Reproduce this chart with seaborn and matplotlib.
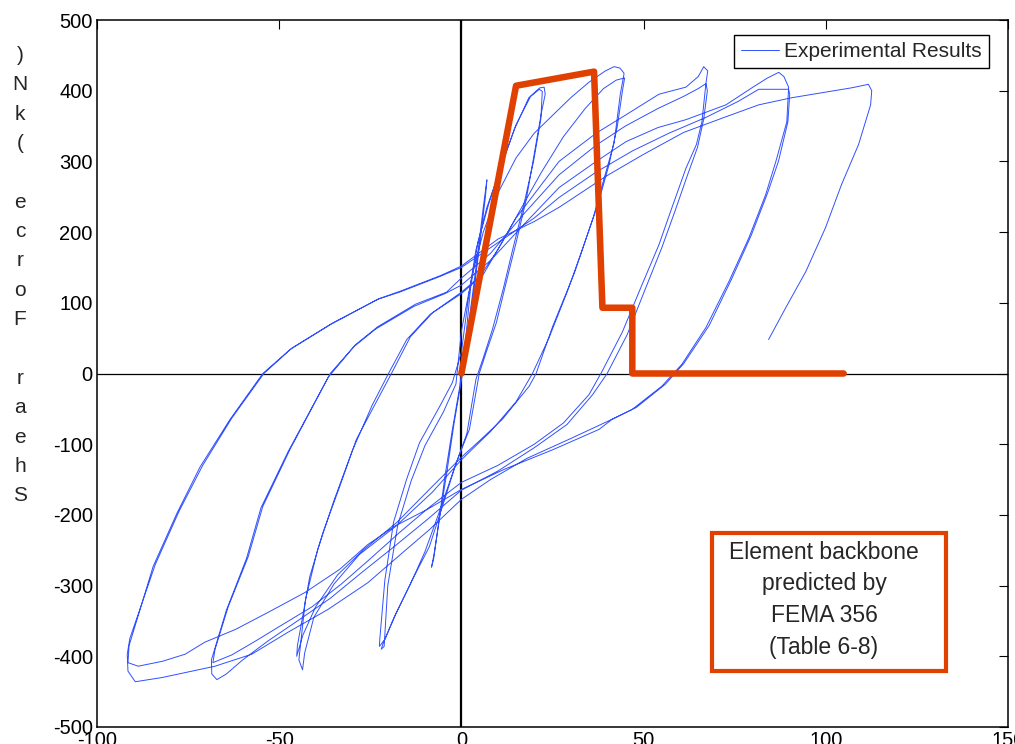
import numpy as np
import pandas as pd
import matplotlib
matplotlib.use("Agg")
import matplotlib.pyplot as plt
from matplotlib.patches import Rectangle
import seaborn as sns

# Cyclic test record, one array pair per displacement amplitude (mm, kN)
cycle_08_disp = [0, 1.5, 3.0, 4.5, 6.0, 7.0, 6.6, 5.2, 3.5, 1.8, 0.0, -2.0, -4.0, -6.0, -7.5, -8.2, -7.6, -6.2, -4.5, -2.5, -0.5]
cycle_08_force = [0, 50, 110, 170, 235, 274, 250, 190, 120, 55, -10, -70, -140, -205, -255, -274, -262, -210, -145, -80, -20]

cycle_22a_disp = [1.0, 2.5, 4.5, 7.0, 10.4, 14.5, 18.5, 21.5, 22.7, 23.0, 22.0, 19.4, 17.8, 15.0, 12.3, 9.6, 6.8, 4.9, 2.2, -1.4,
                  -5.2, -8.8, -13.4, -17.8, -21.0, -22.5, -22.4, -21.0, -18.6, -15.0, -11.5, -6.0, -2.5]
cycle_22a_force = [40, 120, 185, 235, 285, 345, 390, 404, 405, 395, 370, 293, 246, 185, 129, 72, 30, 0, -79, -126,
                   -188, -245, -291, -338, -376, -386, -376, -292, -210, -149, -98, -47, -13]

cycle_22b_disp = [0.0, 2.0, 4.0, 7.5, 11.0, 15.0, 19.0, 21.4, 22.2, 21.8, 19.8, 17.0, 14.2, 11.5, 8.5, 6.0, 4.0, 1.5, -2.0, -6.0,
                  -10.0, -14.0, -18.5, -21.5, -22.0, -21.2, -20.2, -17.5, -13.8, -10.0, -5.0, -1.5]
cycle_22b_force = [30, 110, 175, 240, 295, 352, 392, 402, 399, 360, 300, 236, 178, 120, 62, 22, -8, -85, -135, -195,
                   -252, -298, -345, -382, -390, -386, -300, -215, -152, -102, -55, -15]

cycle_44a_disp = [0.0, 3.0, 6.0, 10.0, 15.0, 20.0, 25.0, 30.0, 35.0, 39.5, 41.9, 43.5, 44.6, 44.6, 43.6, 41.9, 39.0, 36.2, 31.0, 25.0,
                  20.5, 18.6, 11.2, 5.0, 0.3, -8.8, -17.8, -27.0, -34.0, -40.0, -43.5, -45.2, -45.0, -41.6, -38.0, -33.4, -28.8, -23.0, -19.2, -14.0,
                  -7.9, 0.0, 5.0]
cycle_44a_force = [60, 140, 200, 255, 305, 340, 365, 390, 412, 428, 434, 432, 425, 423, 395, 326, 273, 221, 142, 66,
                   0, -18, -65, -95, -117, -164, -211, -250, -285, -330, -370, -400, -385, -287, -225, -160, -93, -37, 0, 52,
                   86, 115, 137]

cycle_44b_disp = [10.0, 16.0, 22.0, 28.0, 34.0, 39.0, 42.5, 44.8, 44.2, 42.8, 40.5, 37.5, 33.5, 29.0, 24.0, 19.5, 15.0, 8.0, 0.0, -8.0,
                  -18.0, -28.0, -35.0, -40.5, -43.0, -43.6, -44.6, -42.8, -39.5, -35.0, -30.0, -24.5, -20.0, -15.0, -8.5, 0.0, 6.0]
cycle_44b_force = [175, 230, 285, 335, 375, 403, 415, 418, 400, 350, 295, 240, 180, 115, 50, 0, -40, -82, -122, -168,
                   -216, -256, -298, -345, -395, -419, -405, -320, -250, -180, -110, -45, 0, 48, 84, 113, 140]

cycle_67a_disp = [15.0, 26.8, 37.0, 45.2, 54.2, 61.6, 65.0, 66.5, 67.6, 67.1, 66.0, 64.5, 61.6, 57.8, 54.2, 49.6, 44.2, 38.6, 35.0, 28.0,
                  20.0, 10.0, 0.0, -9.0, -17.0, -25.0, -33.0, -41.0, -50.0, -57.0, -63.0, -68.2, -67.6, -64.0, -58.5, -54.5, -47.0, -36.0, -29.0, -23.0,
                  -12.6, -4.1, 0.0]
cycle_67a_force = [220, 300, 340, 366, 395, 405, 420, 434, 428, 410, 356, 324, 290, 235, 182, 126, 59, 3, -30, -70,
                   -100, -130, -154, -190, -225, -262, -298, -330, -358, -380, -398, -409, -390, -330, -259, -188, -107, 0, 41, 66,
                   98, 115, 135]

cycle_67b_disp = [8.0, 17.0, 26.8, 37.0, 45.0, 54.0, 61.0, 65.0, 67.1, 67.5, 66.5, 64.8, 62.0, 58.5, 55.0, 50.5, 45.5, 40.0, 36.0, 29.0,
                  20.0, 10.0, 0.0, -9.0, -18.0, -27.0, -36.0, -45.0, -53.0, -60.0, -64.5, -67.1, -68.5, -68.6, -64.5, -59.0, -55.0, -47.5, -36.5, -29.5,
                  -23.5, -13.0, -4.5, 0.0]
cycle_67b_force = [170, 225, 281, 323, 350, 375, 392, 403, 410, 400, 360, 320, 280, 228, 178, 120, 55, 0, -30, -72,
                   -105, -138, -165, -205, -243, -280, -318, -350, -378, -405, -425, -433, -425, -405, -335, -262, -190, -110, -5, 38,
                   63, 95, 113, 125]

cycle_90a_disp = [8.0, 17.0, 26.8, 37.0, 45.2, 54.0, 61.6, 72.6, 80.0, 84.0, 87.1, 88.5, 89.8, 89.3, 86.3, 83.5, 78.9, 73.4, 67.1, 60.5,
                  55.0, 46.8, 41.3, 37.8, 25.0, 12.0, 0.0, -9.3, -18.3, -25.7, -33.4, -43.0, -53.1, -62.0, -70.4, -75.8, -82.0, -88.7, -91.5, -91.2,
                  -84.6, -78.0, -71.7, -63.5, -54.5, -47.0, -36.0, -23.0, -17.0, -6.0, 0.0]
cycle_90a_force = [160, 210, 263, 300, 328, 348, 359, 380, 405, 418, 426, 420, 405, 356, 300, 253, 192, 130, 65, 13,
                   -18, -51, -65, -79, -108, -135, -164, -192, -216, -242, -277, -310, -338, -362, -380, -397, -407, -414, -409, -385,
                   -273, -197, -132, -65, 0, 34, 69, 105, 115, 137, 150]

cycle_90b_disp = [10.0, 20.0, 26.8, 37.0, 47.0, 57.0, 67.0, 76.0, 81.6, 86.0, 89.8, 90.1, 89.6, 87.0, 84.0, 79.5, 74.0, 68.0, 61.0, 56.0,
                  48.0, 40.0, 30.0, 18.0, 8.0, 0.0, -8.8, -18.3, -25.7, -36.7, -47.6, -57.5, -67.6, -82.1, -89.5, -91.5, -91.7, -91.0, -84.0, -77.5,
                  -71.0, -63.0, -54.2, -46.5, -35.5, -22.5, -16.5, -5.5, 0.0]
cycle_90b_force = [185, 220, 249, 285, 315, 340, 362, 385, 402, 402, 402, 395, 356, 300, 255, 195, 132, 68, 14, -15,
                   -48, -68, -92, -120, -150, -178, -221, -263, -296, -334, -366, -397, -414, -430, -436, -421, -397, -375, -270, -195,
                   -130, -63, 0, 36, 71, 106, 117, 139, 152]

cycle_112_disp = [10.0, 20.0, 26.8, 40.0, 50.0, 61.0, 72.0, 81.6, 90.6, 100.0, 107.0, 111.7, 112.6, 112.3, 109.0, 104.3, 99.9, 94.5, 89.0, 84.3]
cycle_112_force = [190, 215, 235, 280, 310, 341, 362, 380, 390, 398, 404, 409, 400, 380, 324, 267, 206, 144, 93, 48]

# FEMA 356 backbone (Table 6-8)
backbone_disp = [0.0, 15.0, 36.4, 38.7, 46.9, 46.9, 104.9]
backbone_force = [0, 407, 427, 93, 93, 0, 0]

ylabel_text = "Shear Force (kN)"
legend_text = "Experimental Results"
note_text = "Element backbone\npredicted by\nFEMA 356\n(Table 6-8)"

cycles = [
    (cycle_08_disp, cycle_08_force), (cycle_22a_disp, cycle_22a_force), (cycle_22b_disp, cycle_22b_force),
    (cycle_44a_disp, cycle_44a_force), (cycle_44b_disp, cycle_44b_force), (cycle_67a_disp, cycle_67a_force),
    (cycle_67b_disp, cycle_67b_force), (cycle_90a_disp, cycle_90a_force), (cycle_90b_disp, cycle_90b_force),
    (cycle_112_disp, cycle_112_force),
]
test = pd.DataFrame({
    "disp": np.concatenate([np.asarray(d, float) for d, _ in cycles]),
    "force": np.concatenate([np.asarray(f, float) for _, f in cycles]),
})
backbone = pd.DataFrame({"disp": backbone_disp, "force": backbone_force})

sns.set_style("white")
plt.rcParams["font.family"] = ["Liberation Sans", "DejaVu Sans"]
plt.rcParams["axes.unicode_minus"] = False

BLUE = "#3050ff"
ORANGE = "#e04000"

fig = plt.figure(figsize=(10.15, 7.44), dpi=100)
ax = fig.add_axes([97 / 1015, 17 / 744, 911 / 1015, 707 / 744])

ax.axvline(0, color="black", lw=1.6, zorder=2)
ax.axhline(0, color="black", lw=0.9, zorder=2)

sns.lineplot(data=test, x="disp", y="force", sort=False, estimator=None,
             color=BLUE, lw=0.7, label=legend_text, ax=ax, zorder=3)
sns.lineplot(data=backbone, x="disp", y="force", sort=False, estimator=None,
             color=ORANGE, lw=4.7, ax=ax, zorder=4, legend=False)

ax.set_xlim(-100, 150)
ax.set_ylim(-500, 500)
ax.set_xticks(np.arange(-100, 151, 50))
ax.set_yticks(np.arange(-500, 501, 100))
ax.set_xlabel("")
ax.set_ylabel("")
ax.tick_params(direction="in", length=6.5, width=0.8, top=True, right=True,
               labelsize=14.5, pad=3, colors="black")
for s in ax.spines.values():
    s.set_visible(True)
    s.set_color("black")
    s.set_linewidth(1.1)

leg = ax.legend(loc="upper right", bbox_to_anchor=(0.979, 0.979), borderaxespad=0,
                frameon=True, fancybox=False, shadow=False, framealpha=1,
                edgecolor="black", fontsize=15, handlelength=1.8,
                handletextpad=0.25, borderpad=0.35)
leg.get_frame().set_linewidth(1.0)

# Note box with the FEMA reference
ax.add_patch(Rectangle((68.7, -421), 64.3, 196, facecolor="white",
                       edgecolor=ORANGE, lw=3, zorder=5))
ax.text(99.5, -320, note_text, ha="center", va="center", fontsize=16.5,
        linespacing=1.48, zorder=6)

# Vertical label, characters stacked bottom-to-top
fig.text(20 / 1015, 1 - 46 / 744, "\n".join(ylabel_text[::-1]), ha="center",
         va="top", fontsize=15, linespacing=1.69)

fig.savefig("out.png", dpi=100)
